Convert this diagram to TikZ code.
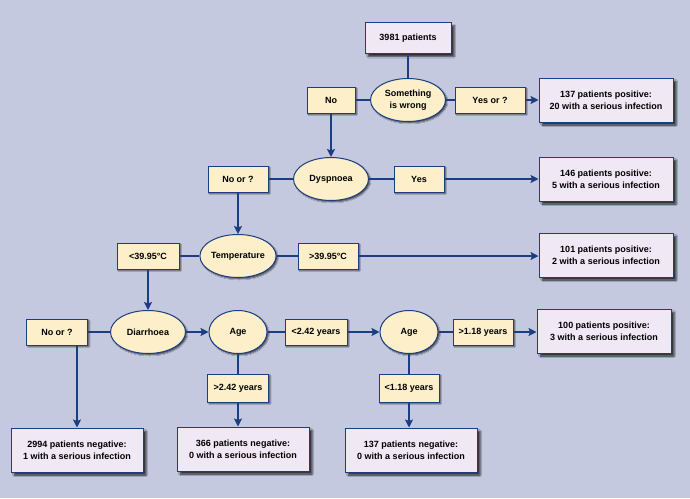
\documentclass[tikz,border=0pt]{standalone}
\usepackage{fontspec}
\setmainfont{Liberation Sans}
\usepackage{xcolor}
\usepackage{tikz}
\usetikzlibrary{arrows.meta}
\usetikzlibrary{shapes.geometric}
\usetikzlibrary{shadows.blur}

\definecolor{backdrop}{HTML}{C4C9E0}
\definecolor{navy}{HTML}{1A3E80}
\definecolor{lilac}{HTML}{F0E8F4}
\definecolor{cream}{HTML}{FCEFC9}

\begin{document}
\begin{tikzpicture}[x=1pt,y=-1pt,
    font=\bfseries\fontsize{9}{12}\selectfont,
    outcome/.style={rectangle, draw=navy, line width=1pt, fill=lilac, align=center,
        minimum width=134, minimum height=44, inner sep=0pt,
        blur shadow={shadow xshift=3pt, shadow yshift=-3pt, shadow blur radius=1.5pt, shadow opacity=75}},
    branch/.style={rectangle, draw=navy, line width=1pt, fill=cream, align=center,
        minimum height=26, inner sep=0pt,
        blur shadow={shadow xshift=1.5pt, shadow yshift=-1.5pt, shadow blur radius=1pt, shadow opacity=60}},
    question/.style={ellipse, draw=navy, line width=1pt, fill=cream, align=center,
        minimum width=75, minimum height=43, inner sep=0pt,
        blur shadow={shadow xshift=1.5pt, shadow yshift=-1.5pt, shadow blur radius=1pt, shadow opacity=60}},
    link/.style={draw=navy, line width=2.6pt},
    into/.style={link, -{Stealth[length=8pt, width=8pt, inset=1.5pt]}}
]
    \path[use as bounding box, fill=backdrop] (0,0) rectangle (690,498);

    \node[outcome, minimum width=86, minimum height=31] (start) at (408, 38) {3981 patients};

    \node[question] (wrong) at (408,100) {Something\\is wrong};
    \node[branch, minimum width=48] (no1) at (331,100) {No};
    \node[branch, minimum width=70] (yes1) at (490,100) {Yes or ?};
    \node[outcome] (pos1) at (606,100) {137 patients positive:\\20 with a serious infection};

    \node[question] (dysp) at (331,179) {Dyspnoea};
    \node[branch, minimum width=60] (no2) at (238,179) {No or ?};
    \node[branch, minimum width=50] (yes2) at (419,179) {Yes};
    \node[outcome] (pos2) at (606,179) {146 patients positive:\\5 with a serious infection};

    \node[question] (temp) at (238,256) {Temperature};
    \node[branch, minimum width=62] (lo) at (148,256) {<39.95°C};
    \node[branch, minimum width=60] (hi) at (328,256) {>39.95°C};
    \node[outcome] (pos3) at (606,255) {101 patients positive:\\2 with a serious infection};

    \node[question] (diarr) at (148,332) {Diarrhoea};
    \node[branch, minimum width=61] (no3) at (57,332) {No or ?};
    \node[question, minimum width=58] (age1) at (238,332) {Age};
    \node[branch, minimum width=62] (lt242) at (316,332) {<2.42 years};
    \node[question, minimum width=58] (age2) at (409,332) {Age};
    \node[branch, minimum width=60] (gt118) at (483,332) {>1.18 years};
    \node[outcome] (pos4) at (604,331) {100 patients positive:\\3 with a serious infection};

    \node[branch, minimum width=61, minimum height=28] (gt242) at (238,388) {>2.42 years};
    \node[branch, minimum width=60, minimum height=28] (lt118) at (409,388) {<1.18 years};

    \node[outcome, minimum width=132] (neg1) at (77,450) {2994 patients negative:\\1 with a serious infection};
    \node[outcome, minimum width=132] (neg2) at (243,449) {366 patients negative:\\0 with a serious infection};
    \node[outcome, minimum width=132] (neg3) at (411,450) {137 patients negative:\\0 with a serious infection};

    \draw[link] (start) -- (wrong);
    \draw[link] (wrong) -- (no1);
    \draw[link] (wrong) -- (yes1);
    \draw[into] (yes1) -- (pos1);
    \draw[into] (no1) -- (dysp);

    \draw[link] (dysp) -- (no2);
    \draw[link] (dysp) -- (yes2);
    \draw[into] (yes2) -- (pos2.west |- yes2);
    \draw[into] (no2) -- (temp);

    \draw[link] (temp) -- (lo);
    \draw[link] (temp) -- (hi);
    \draw[into] (hi) -- (pos3.west |- hi);
    \draw[into] (lo) -- (diarr);

    \draw[link] (diarr) -- (no3);
    \draw[into] (diarr) -- (age1);
    \draw[link] (age1) -- (lt242);
    \draw[into] (lt242) -- (age2);
    \draw[link] (age2) -- (gt118);
    \draw[into] (gt118) -- (pos4.west |- gt118);

    \draw[link] (age1) -- (gt242);
    \draw[link] (age2) -- (lt118);
    \draw[into] (no3.south -| neg1) -- (neg1.north);
    \draw[into] (gt242.south) -- (gt242.south |- neg2.north);
    \draw[into] (lt118.south) -- (lt118.south |- neg3.north);
\end{tikzpicture}
\end{document}
